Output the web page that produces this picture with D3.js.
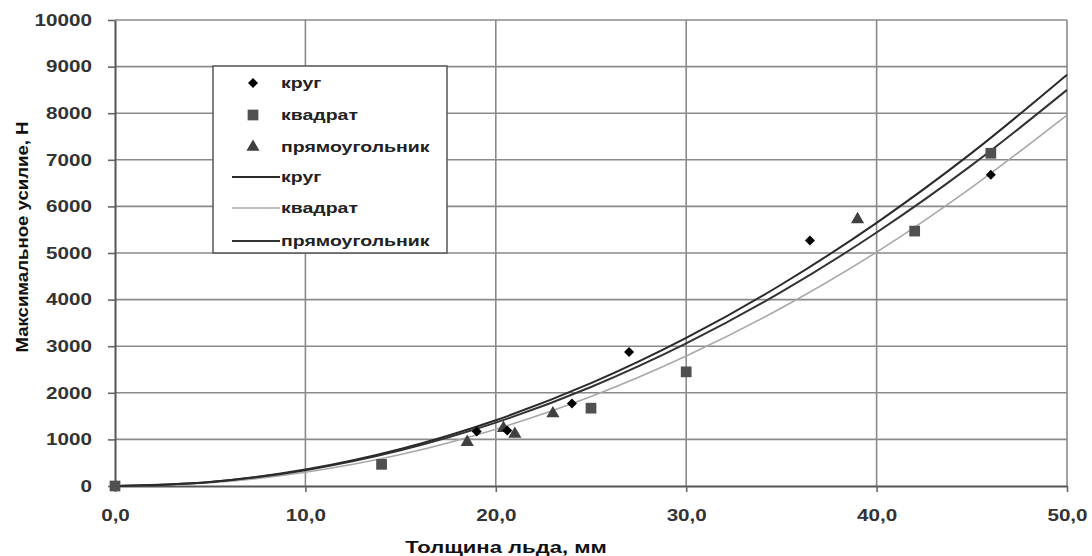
<!DOCTYPE html>
<html>
<head>
  <meta charset="utf-8">
  <title>Максимальное усилие</title>
  <script src="https://d3js.org/d3.v7.min.js"></script>
  <style>
    body { margin: 0; background: #fff; }
    text { font-family: "Liberation Sans", Arial, sans-serif; }
  </style>
</head>
<body>
  <div id="chart"></div>

  <script>
    // Tick labels
    var xTicks = [0, 10, 20, 30, 40, 50];
    var xTickLabels = ["0,0", "10,0", "20,0", "30,0", "40,0", "50,0"];
    var yTicks = [0, 1000, 2000, 3000, 4000, 5000, 6000, 7000, 8000, 9000, 10000];

    // Measured points [thickness, force]
    var krugPoints = [[19, 1170], [20.6, 1190], [24, 1770], [27, 2875], [36.5, 5270], [46, 6680]];
    var kvadratPoints = [[0, 0], [14, 465], [25, 1670], [30, 2450], [42, 5470], [46, 7140]];
    var pryamPoints = [[18.5, 940], [20.4, 1240], [21, 1115], [23, 1555], [39, 5720]];

    // Trend lines, every 5 mm
    var trendX = [0, 5, 10, 15, 20, 25, 30, 35, 40, 45, 50];
    var krugTrend = [0, 88, 353, 795, 1412, 2206, 3177, 4324, 5648, 7148, 8825];
    var kvadratTrend = [0, 70, 295, 675, 1220, 1920, 2790, 3820, 5020, 6410, 7960];
    var pryamTrend = [0, 85, 340, 765, 1360, 2125, 3060, 4165, 5440, 6885, 8500];

    var width = 1092, height = 556;
    var plotLeft = 115, plotRight = 1067, plotTop = 20, plotBottom = 486;
    var sx = 1.25; // horizontal stretch of all text

    var svg = d3.select("#chart").append("svg")
      .attr("width", width)
      .attr("height", height);

    var x = d3.scaleLinear().domain([0, 50]).range([plotLeft, plotRight]);
    var y = d3.scaleLinear().domain([0, 10000]).range([plotBottom, plotTop]);

    // grid
    svg.append("g").selectAll("line")
      .data(yTicks.slice(1))
      .enter().append("line")
      .attr("x1", plotLeft).attr("x2", plotRight)
      .attr("y1", function(d) { return y(d); })
      .attr("y2", function(d) { return y(d); })
      .attr("stroke", "#8a8a8a").attr("stroke-width", 1.6);
    svg.append("g").selectAll("line")
      .data(xTicks.slice(1))
      .enter().append("line")
      .attr("y1", plotTop).attr("y2", plotBottom)
      .attr("x1", function(d) { return x(d); })
      .attr("x2", function(d) { return x(d); })
      .attr("stroke", "#8a8a8a").attr("stroke-width", 1.6);

    // axes
    var yAxis = svg.append("g")
      .attr("transform", "translate(" + plotLeft + ",0)")
      .call(d3.axisLeft(y).tickValues(yTicks).tickSize(7).tickSizeOuter(0)
        .tickFormat(d3.format("d")));
    var xAxis = svg.append("g")
      .attr("transform", "translate(0," + plotBottom + ")")
      .call(d3.axisBottom(x).tickValues(xTicks).tickSize(6).tickSizeOuter(0)
        .tickFormat(function(d, i) { return xTickLabels[i]; }));

    [yAxis, xAxis].forEach(function(a) {
      a.select(".domain").attr("stroke", "#555").attr("stroke-width", 2);
      a.selectAll(".tick line").attr("stroke", "#666").attr("stroke-width", 1.6);
      a.selectAll("text")
        .attr("fill", "#333")
        .attr("font-size", 16.5)
        .attr("font-weight", "bold");
    });
    yAxis.selectAll("text").attr("x", -18.5).attr("transform", "scale(" + sx + ",1)");
    xAxis.selectAll("text").attr("y", 23).attr("transform", "scale(" + sx + ",1)");

    // axis titles
    svg.append("text")
      .attr("transform", "translate(506,553) scale(1.38,1.05)")
      .attr("text-anchor", "middle")
      .attr("font-size", 16)
      .attr("font-weight", "bold")
      .attr("fill", "#111")
      .text("Толщина льда, мм");
    svg.append("text")
      .attr("transform", "translate(28,237) rotate(-90) scale(1.2,1.12)")
      .attr("text-anchor", "middle")
      .attr("font-size", 15.5)
      .attr("font-weight", "bold")
      .attr("fill", "#111")
      .text("Максимальное усилие, Н");

    // trend lines
    var line = d3.line()
      .x(function(d) { return x(d[0]); })
      .y(function(d) { return y(d[1]); })
      .curve(d3.curveMonotoneX);
    function pairs(vals) { return trendX.map(function(t, i) { return [t, vals[i]]; }); }

    var plot = svg.append("g");
    plot.append("path").datum(pairs(kvadratTrend)).attr("d", line)
      .attr("fill", "none").attr("stroke", "#a8a8a8").attr("stroke-width", 1.6);
    plot.append("path").datum(pairs(pryamTrend)).attr("d", line)
      .attr("fill", "none").attr("stroke", "#333").attr("stroke-width", 2);
    plot.append("path").datum(pairs(krugTrend)).attr("d", line)
      .attr("fill", "none").attr("stroke", "#2a2a2a").attr("stroke-width", 2);

    // markers
    var diamond = d3.symbol().type(d3.symbolDiamond2).size(64);
    var square = d3.symbol().type(d3.symbolSquare).size(115);
    var triangle = d3.symbol().type(d3.symbolTriangle).size(75);

    plot.selectAll(".sq").data(kvadratPoints).enter().append("path")
      .attr("class", "sq").attr("d", square).attr("fill", "#505050")
      .attr("transform", function(d) { return "translate(" + x(d[0]) + "," + y(d[1]) + ")"; });
    plot.selectAll(".tr").data(pryamPoints).enter().append("path")
      .attr("class", "tr").attr("d", triangle).attr("fill", "#404040")
      .attr("transform", function(d) { return "translate(" + x(d[0]) + "," + y(d[1]) + ")"; });
    plot.selectAll(".di").data(krugPoints).enter().append("path")
      .attr("class", "di").attr("d", diamond).attr("fill", "#000")
      .attr("transform", function(d) { return "translate(" + x(d[0]) + "," + y(d[1]) + ")"; });

    // legend
    var legend = [
      { label: "круг", kind: "marker", sym: diamond, color: "#000" },
      { label: "квадрат", kind: "marker", sym: square, color: "#505050" },
      { label: "прямоугольник", kind: "marker", sym: triangle, color: "#404040" },
      { label: "круг", kind: "line", color: "#2a2a2a", w: 2 },
      { label: "квадрат", kind: "line", color: "#a8a8a8", w: 1.6 },
      { label: "прямоугольник", kind: "line", color: "#333", w: 2 }
    ];
    var lg = svg.append("g");
    lg.append("rect")
      .attr("x", 213).attr("y", 66).attr("width", 234).attr("height", 187)
      .attr("fill", "#fff").attr("stroke", "#555").attr("stroke-width", 1.5);
    var rows = [83, 115, 147, 177, 208, 241];
    legend.forEach(function(d, i) {
      var ry = rows[i];
      if (d.kind === "marker") {
        lg.append("path").attr("d", d.sym).attr("fill", d.color)
          .attr("transform", "translate(253," + ry + ")");
      } else {
        lg.append("line").attr("x1", 232).attr("x2", 280)
          .attr("y1", ry).attr("y2", ry)
          .attr("stroke", d.color).attr("stroke-width", d.w);
      }
      lg.append("text")
        .attr("transform", "translate(281," + (ry + 5) + ") scale(1.3,1)")
        .attr("font-size", 15)
        .attr("font-weight", "bold")
        .attr("fill", "#222")
        .text(d.label);
    });
  </script>
</body>
</html>
